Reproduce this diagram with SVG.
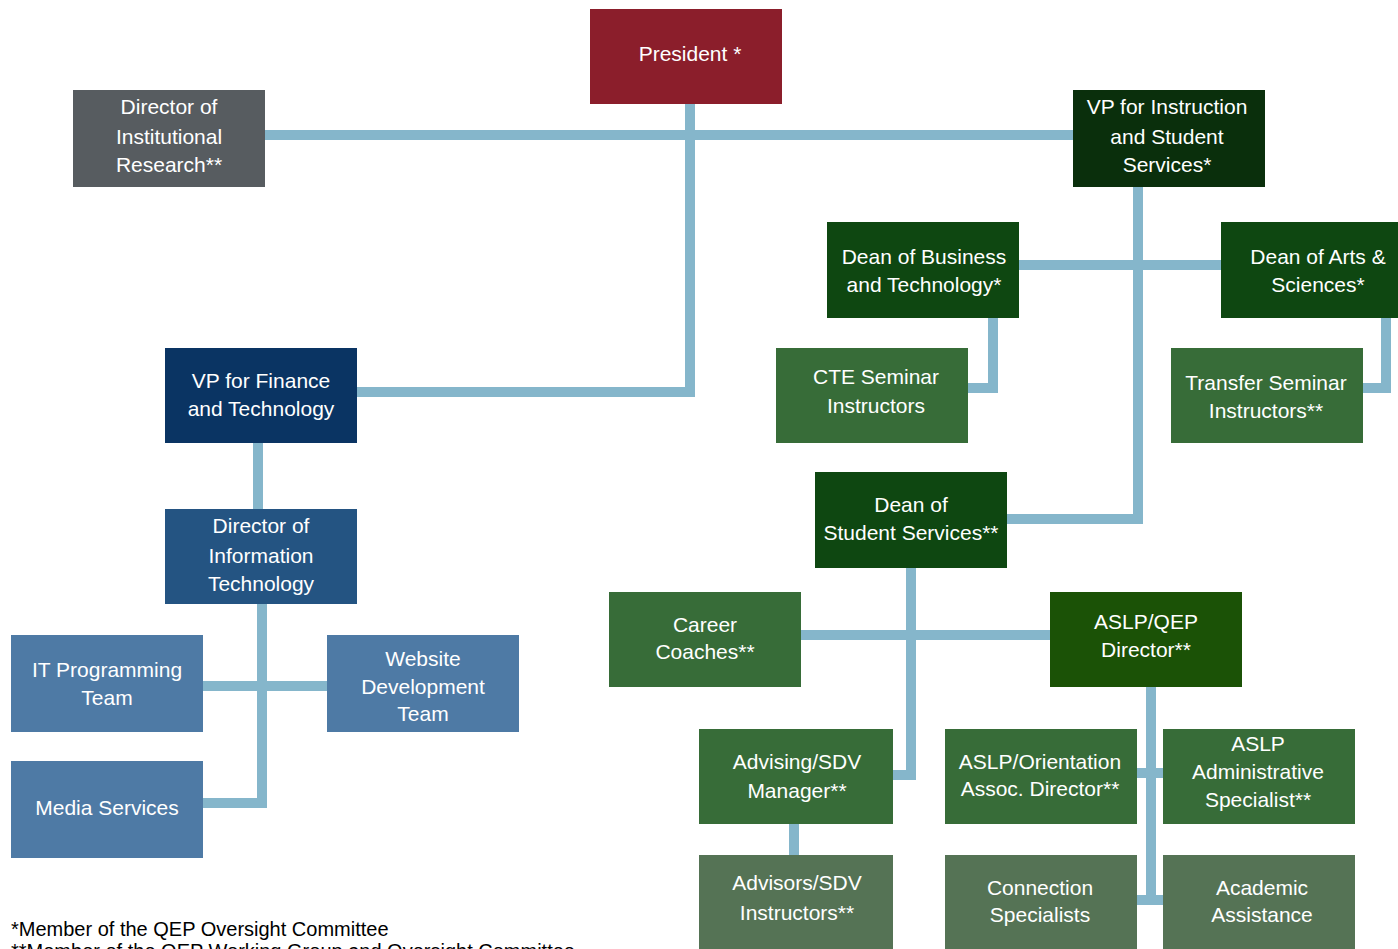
<svg xmlns="http://www.w3.org/2000/svg" width="1398" height="949" viewBox="0 0 1398 949">
<style>
.n text{font-family:"Liberation Sans",Arial,sans-serif;font-size:21px;fill:#fff;text-anchor:middle}
.c{fill:none;stroke:#85b6cb;stroke-width:10;stroke-linejoin:miter}
.red{fill:#8b1e2b}.grey{fill:#575c60}.vdg{fill:#0a2f0c}.dg{fill:#0e4711}.mg{fill:#376c38}.yg{fill:#1b5206}.gg{fill:#557355}
.navy{fill:#0a3463}.blue{fill:#245482}.lb{fill:#4e7aa5}
.fn{font-family:"Liberation Sans",Arial,sans-serif;font-size:20px;fill:#000}
</style>
<rect width="1398" height="949" fill="#fff"/>
<g id="connectors">
<path class="c" d="M690 104V392H357"/>
<path class="c" d="M265 135H1073"/>
<path class="c" d="M1138 187V519H1007"/>
<path class="c" d="M1019 265H1221"/>
<path class="c" d="M993 318V388H968"/>
<path class="c" d="M1386 318V388H1363"/>
<path class="c" d="M258 443V509"/>
<path class="c" d="M262 604V803H203"/>
<path class="c" d="M203 686H327"/>
<path class="c" d="M911 568V775H893"/>
<path class="c" d="M801 635H1050"/>
<path class="c" d="M1151 687V903"/>
<path class="c" d="M1137 773H1163"/>
<path class="c" d="M1137 900H1163"/>
<path class="c" d="M794 824V855"/>
</g>
<g id="president" class="n"><rect class="red" x="590" y="9" width="192" height="95"/><text x="690" y="61">President *</text></g>
<g id="dir-ir" class="n"><rect class="grey" x="73" y="90" width="192" height="97"/><text x="169" y="114">Director of</text><text x="169" y="144">Institutional</text><text x="169" y="172">Research**</text></g>
<g id="vp-instruction" class="n"><rect class="vdg" x="1073" y="90" width="192" height="97"/><text x="1167" y="114">VP for Instruction</text><text x="1167" y="144">and Student</text><text x="1167" y="172">Services*</text></g>
<g id="dean-business" class="n"><rect class="dg" x="827" y="222" width="192" height="96"/><text x="924" y="264">Dean of Business</text><text x="924" y="292">and Technology*</text></g>
<g id="dean-arts" class="n"><rect class="dg" x="1221" y="222" width="192" height="96"/><text x="1318" y="264">Dean of Arts &amp;</text><text x="1318" y="292">Sciences*</text></g>
<g id="cte" class="n"><rect class="mg" x="776" y="348" width="192" height="95"/><text x="876" y="384">CTE Seminar</text><text x="876" y="413">Instructors</text></g>
<g id="transfer" class="n"><rect class="mg" x="1171" y="348" width="192" height="95"/><text x="1266" y="390">Transfer Seminar</text><text x="1266" y="418">Instructors**</text></g>
<g id="vp-finance" class="n"><rect class="navy" x="165" y="348" width="192" height="95"/><text x="261" y="388">VP for Finance</text><text x="261" y="416">and Technology</text></g>
<g id="dir-it" class="n"><rect class="blue" x="165" y="509" width="192" height="95"/><text x="261" y="533">Director of</text><text x="261" y="563">Information</text><text x="261" y="591">Technology</text></g>
<g id="it-prog" class="n"><rect class="lb" x="11" y="635" width="192" height="97"/><text x="107" y="677">IT Programming</text><text x="107" y="705">Team</text></g>
<g id="website" class="n"><rect class="lb" x="327" y="635" width="192" height="97"/><text x="423" y="666">Website</text><text x="423" y="694">Development</text><text x="423" y="721">Team</text></g>
<g id="media" class="n"><rect class="lb" x="11" y="761" width="192" height="97"/><text x="107" y="815">Media Services</text></g>
<g id="dean-ss" class="n"><rect class="dg" x="815" y="472" width="192" height="96"/><text x="911" y="512">Dean of</text><text x="911" y="540">Student Services**</text></g>
<g id="career" class="n"><rect class="mg" x="609" y="592" width="192" height="95"/><text x="705" y="632">Career</text><text x="705" y="659">Coaches**</text></g>
<g id="aslp-qep" class="n"><rect class="yg" x="1050" y="592" width="192" height="95"/><text x="1146" y="629">ASLP/QEP</text><text x="1146" y="657">Director**</text></g>
<g id="advising" class="n"><rect class="mg" x="699" y="729" width="194" height="95"/><text x="797" y="769">Advising/SDV</text><text x="797" y="798">Manager**</text></g>
<g id="aslp-orient" class="n"><rect class="mg" x="945" y="729" width="192" height="95"/><text x="1040" y="769">ASLP/Orientation</text><text x="1040" y="796">Assoc. Director**</text></g>
<g id="aslp-admin" class="n"><rect class="mg" x="1163" y="729" width="192" height="95"/><text x="1258" y="751">ASLP</text><text x="1258" y="779">Administrative</text><text x="1258" y="807">Specialist**</text></g>
<g id="advisors" class="n"><rect class="gg" x="699" y="855" width="194" height="96"/><text x="797" y="890">Advisors/SDV</text><text x="797" y="920">Instructors**</text></g>
<g id="connection" class="n"><rect class="gg" x="945" y="855" width="192" height="96"/><text x="1040" y="895">Connection</text><text x="1040" y="922">Specialists</text></g>
<g id="academic" class="n"><rect class="gg" x="1163" y="855" width="192" height="96"/><text x="1262" y="895">Academic</text><text x="1262" y="922">Assistance</text></g>
<g id="footnotes">
<text class="fn" x="11" y="936">*Member of the QEP Oversight Committee</text>
<text class="fn" x="11" y="958">**Member of the QEP Working Group and Oversight Committee</text>
</g>
</svg>
